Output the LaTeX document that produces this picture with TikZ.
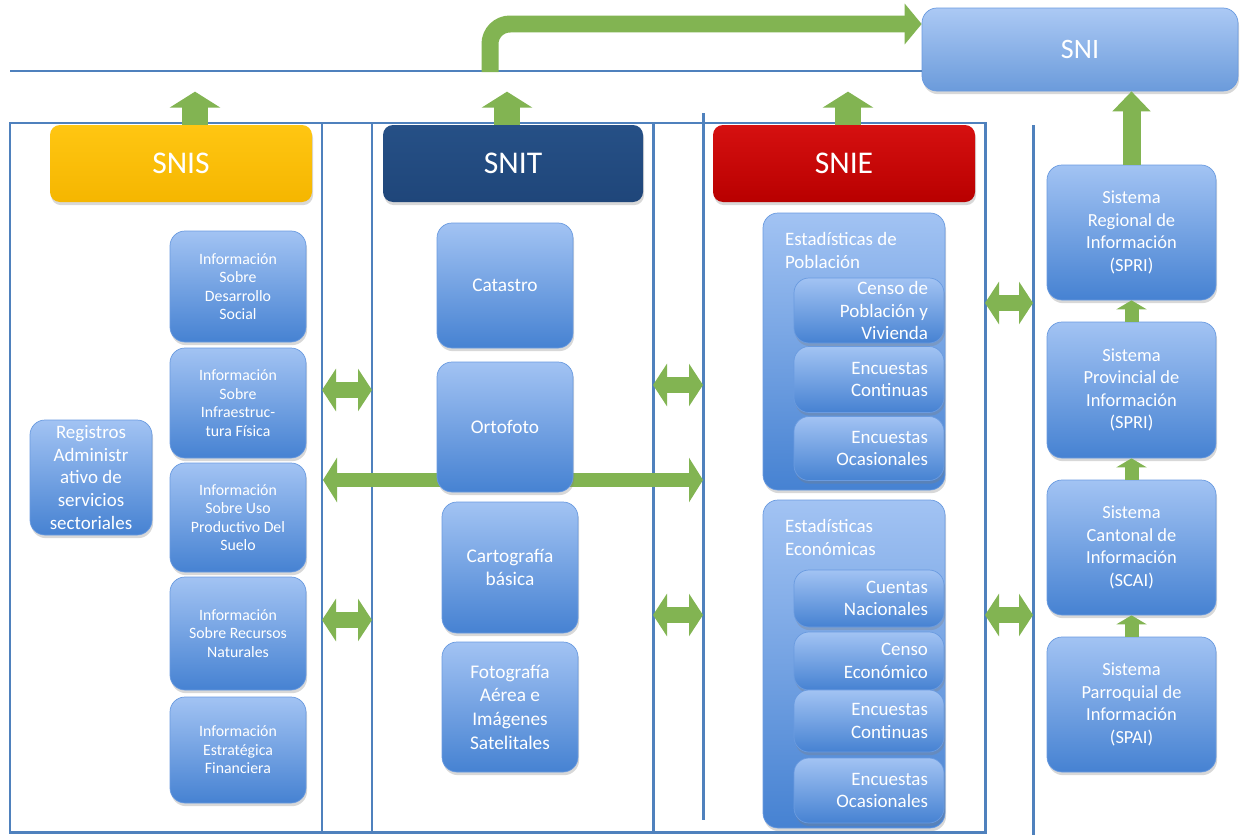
\documentclass[tikz,border=0pt]{standalone}
\usepackage{fontspec}
\setmainfont{Carlito}
\usetikzlibrary{arrows.meta, shadows}
\definecolor{frameblue}{HTML}{4F81BD}
\definecolor{boxtop}{HTML}{A2C3F3}
\definecolor{boxbot}{HTML}{4682D2}
\definecolor{boxedge}{HTML}{6A9BE0}
\definecolor{arrowgreen}{HTML}{82B452}
\tikzset{frame/.style={draw=frameblue, line width=1.7pt}}
\tikzset{sz/.style 2 args={minimum width=#1*0.02cm, minimum height=#2*0.02cm}}
\tikzset{bluebox/.style={rounded corners=0.3cm, top color=boxtop, bottom color=boxbot, draw=boxedge, line width=0.4pt, text=white, align=center, inner sep=1pt, drop shadow={opacity=0.3, shadow xshift=0.6pt, shadow yshift=-1.8pt}}}
\tikzset{subbox/.style={bluebox, align=flush right, inner xsep=0.32cm, inner ysep=0pt, text width=2.36cm, font=\fontsize{10.8}{12.8}\selectfont}}
\tikzset{header/.style={rounded corners=0.2cm, text=white, sz={262}{77}, font=\fontsize{18}{20}\selectfont, drop shadow={opacity=0.3, shadow xshift=0.6pt, shadow yshift=-1.8pt}}}
\tikzset{uparr/.style={draw=arrowgreen, line width=0.52cm, -{Triangle[width=1cm, length=0.32cm]}}}
\tikzset{sniarr/.style={draw=arrowgreen, line width=0.36cm, -{Triangle[width=0.74cm, length=0.4cm]}}}
\tikzset{smallarr/.style={draw=arrowgreen, line width=0.28cm, -{Triangle[width=0.6cm, length=0.18cm]}}}
\tikzset{dblarr/.style={draw=arrowgreen, line width=0.32cm, {Triangle[width=0.84cm, length=0.28cm]}-{Triangle[width=0.84cm, length=0.28cm]}}}
\tikzset{longarr/.style={draw=arrowgreen, line width=0.28cm, {Triangle[width=0.88cm, length=0.28cm]}-{Triangle[width=0.88cm, length=0.28cm]}}}
\tikzset{bendarr/.style={draw=arrowgreen, line width=0.34cm, rounded corners=0.4cm, -{Triangle[width=0.8cm, length=0.34cm]}}}

\begin{document}
\begin{tikzpicture}[x=0.02cm, y=-0.02cm]
    \fill[white] (0,0) rectangle (1251,835);
    \useasboundingbox (0,0) rectangle (1251,835);
    % frame
    \draw[frame] (10,123) rectangle (985,832);
    \draw[frame] (322,123) -- (322,832);
    \draw[frame] (372,123) -- (372,832);
    \draw[frame] (653,123) -- (653,832);
    \draw[frame] (703,113) -- (703,820);
    \draw[frame] (1033,125) -- (1033,835);
    \draw[longarr] (323,480) -- (703,480);
    % SNI
    \node[bluebox, sz={316}{83}, top color=boxtop!90!white, bottom color=boxbot!80!white, font=\fontsize{16}{18}\selectfont] (sni) at (1080,49.5) {SNI};
    \draw[frame] (10,71) -- (sni.west |- 10,71);
    \draw[bendarr] (490,72) |- (sni.west |- 10,24);
    % headers
    \node[header, top color={rgb,255:red,255;green,198;blue,18}, bottom color={rgb,255:red,245;green,182;blue,0}] (snis) at (181,163.5) {SNIS};
    \node[header, sz={260}{77}, top color={rgb,255:red,38;green,80;blue,134}, bottom color={rgb,255:red,31;green,70;blue,122}] (snit) at (513,163.5) {SNIT};
    \node[header, top color={rgb,255:red,214;green,16;blue,16}, bottom color={rgb,255:red,184;green,0;blue,0}] (snie) at (844,163.5) {SNIE};
    \draw[uparr] ([xshift=0.28cm]snis.north) -- ++(0,-33);
    \draw[uparr] ([xshift=-0.12cm]snit.north) -- ++(0,-33);
    \draw[uparr] ([xshift=0.08cm]snie.north) -- ++(0,-33);
    % SNIS
    \begin{scope}[every node/.append style={font=\fontsize{9}{10.5}\selectfont}]
        \node[bluebox, sz={136}{111}] (des) at (238,286.5) {Información\\Sobre\\Desarrollo\\Social};
        \node[bluebox, sz={136}{110}] (inf) at (238,403) {Información\\Sobre\\Infraestruc-\\tura Física};
        \node[bluebox, sz={136}{109}] (uso) at (238,517.5) {Información\\Sobre Uso\\Productivo Del\\Suelo};
        \node[bluebox, sz={136}{113}] (rec) at (238,633.5) {Información\\Sobre Recursos\\Naturales};
        \node[bluebox, sz={136}{106}] (fin) at (238,750) {Información\\Estratégica\\Financiera};
    \end{scope}
    \node[bluebox, sz={122}{115}, inner ysep=0pt, font=\fontsize{10.8}{13}\selectfont] (reg0) at (91,477.5) {Registros\\Administr\\ativo de\\servicios\\sectoriales};
    % SNIT
    \begin{scope}[every node/.append style={font=\fontsize{11}{13.5}\selectfont}]
        \node[bluebox, sz={136}{125}] (cat) at (505,285.5) {Catastro};
        \node[bluebox, sz={136}{130}] (ort) at (505,427) {Ortofoto};
        \node[bluebox, sz={136}{131}] (car) at (510,567.5) {Cartografía\\básica};
        \node[bluebox, sz={136}{130}] (fot) at (510,707) {Fotografía\\Aérea e\\Imágenes\\Satelitales};
    \end{scope}
    % SNIE
    \node[bluebox, sz={182}{277}, label={[anchor=north west, inner sep=0pt, xshift=0.44cm, yshift=-0.38cm, align=left, text=white, font=\fontsize{10.8}{13}\selectfont]north west:Estadísticas de\\Población}] (pob) at (854,351.5) {};
    \node[subbox, sz={150}{65}] (pob1) at (869,310.5) {Censo de\\Población y\\Vivienda};
    \node[subbox, sz={150}{66}] (pob2) at (869,379.5) {Encuestas\\Continuas};
    \node[subbox, sz={150}{64}] (pob3) at (869,448.5) {Encuestas\\Ocasionales};
    \node[bluebox, sz={182}{328}, label={[anchor=north west, inner sep=0pt, xshift=0.44cm, yshift=-0.38cm, align=left, text=white, font=\fontsize{10.8}{13}\selectfont]north west:Estadísticas\\Económicas}] (eco) at (854,664) {};
    \node[subbox, sz={150}{57}] (eco1) at (869,598.5) {Cuentas\\Nacionales};
    \node[subbox, sz={150}{58}] (eco2) at (869,661) {Censo\\Económico};
    \node[subbox, sz={150}{62}] (eco3) at (869,721) {Encuestas\\Continuas};
    \node[subbox, sz={150}{65}] (eco4) at (869,790.5) {Encuestas\\Ocasionales};
    % right column
    \begin{scope}[every node/.append style={font=\fontsize{10.5}{12.8}\selectfont}]
        \node[bluebox, sz={169}{135}] (reg) at (1131.5,232.5) {Sistema\\Regional de\\Información\\(SPRI)};
        \node[bluebox, sz={169}{136}] (prov) at (1131.5,390) {Sistema\\Provincial de\\Información\\(SPRI)};
        \node[bluebox, sz={169}{135}] (cant) at (1131.5,547.5) {Sistema\\Cantonal de\\Información\\(SCAI)};
        \node[bluebox, sz={169}{135}] (parr) at (1131.5,704.5) {Sistema\\Parroquial de\\Información\\(SPAI)};
    \end{scope}
    \draw[sniarr] (reg.north) -- (reg.north |- sni.south);
    \draw[smallarr] (prov.north) -- (reg.south);
    \draw[smallarr] (cant.north) -- (prov.south);
    \draw[smallarr] (parr.north) -- (cant.south);
    % links
    \draw[dblarr] (322,390) -- (372,390);
    \draw[dblarr] (322,620) -- (372,620);
    \draw[dblarr] (653,385) -- (703,385);
    \draw[dblarr] (653,615) -- (703,615);
    \draw[dblarr] (985,303) -- (1033,303);
    \draw[dblarr] (985,615) -- (1033,615);
\end{tikzpicture}
\end{document}
